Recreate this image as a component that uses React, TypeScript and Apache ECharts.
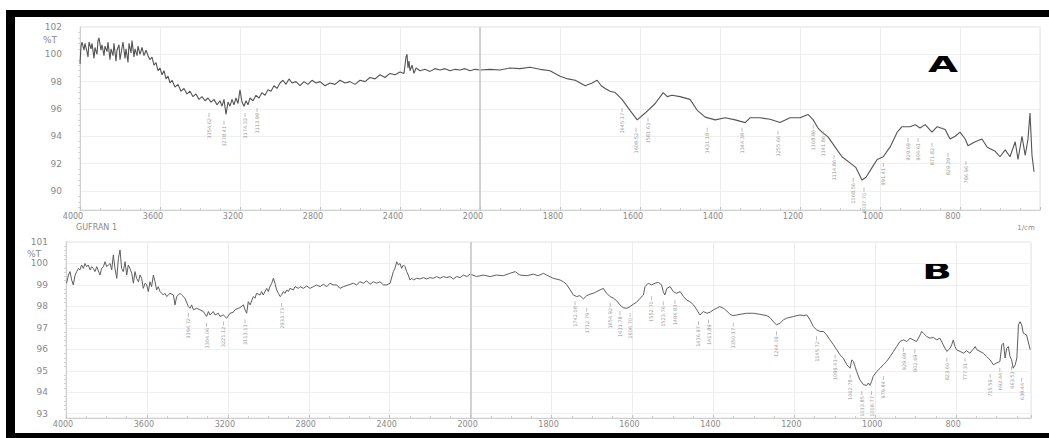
import React, { useEffect, useRef } from "react";
import * as echarts from "echarts";

// ---- spectrum A (wavenumber 1/cm, %T) ----
const specA: [number, number][] = [
  [4000,99.3],[3995,100.6],[3990,100.9],[3980,100.3],[3975,100.8],[3965,100.2],[3960,99.8],[3955,100.9],[3945,100.4],[3940,100.8],[3930,99.7],[3925,100.5],[3915,100.0],[3910,101.0],[3905,101.2],[3895,100.3],[3890,100.7],[3880,99.9],[3875,100.6],[3865,100.2],[3860,100.9],[3850,99.6],[3845,100.4],[3835,99.9],[3830,100.8],[3820,99.5],[3815,100.3],[3805,100.7],[3800,99.6],[3790,100.5],[3785,100.9],[3775,99.7],[3770,100.4],[3760,99.4],[3755,100.8],[3745,100.1],[3740,101.0],[3730,99.8],[3725,100.4],[3715,99.9],[3710,100.6],[3700,100.0],[3690,100.5],[3680,99.9],[3670,100.3],[3660,99.9],
  [3650,99.6],[3640,99.8],[3630,99.2],[3620,99.4],[3610,98.8],[3600,99.0],[3590,98.5],[3580,98.8],[3570,98.2],[3560,98.4],[3550,97.9],[3540,98.1],[3525,97.6],[3510,97.8],[3495,97.3],[3480,97.5],[3465,97.1],[3450,97.3],[3435,96.9],[3420,97.1],[3405,96.7],[3390,96.9],[3375,96.6],[3360,96.8],[3345,96.5],[3330,96.7],[3315,96.3],[3300,96.6],[3290,96.2],[3280,96.7],[3270,95.6],[3260,96.5],[3250,96.2],[3240,96.7],[3230,96.3],[3220,96.8],[3210,96.4],[3200,97.4],[3190,96.5],[3180,96.2],[3170,96.6],[3160,96.3],[3150,96.8],[3135,96.6],[3120,97.0],[3105,96.8],[3090,97.2],[3075,97.0],[3060,97.4],[3045,97.3],[3030,97.7],[3015,97.5],[3000,97.9],[2985,98.1],[2970,97.8],[2955,98.2],[2940,97.9],[2920,98.0],[2900,97.7],[2880,98.0],[2860,97.8],[2840,98.1],[2820,97.9],[2800,98.0],[2775,97.7],[2750,97.9],[2725,97.8],[2700,98.1],[2675,97.9],[2650,98.0],[2625,97.8],[2600,98.1],[2575,98.0],[2550,98.3],[2525,98.2],[2500,98.5],[2475,98.3],[2450,98.6],[2425,98.5],[2400,98.7],[2380,98.6],[2370,99.8],[2365,100.0],[2360,99.0],[2355,99.5],[2350,98.8],[2340,99.2],[2330,98.6],[2320,99.0],[2300,98.8],[2275,98.9],[2250,98.75],[2225,98.95],[2200,98.85],[2175,98.95],[2150,98.8],[2125,98.9],[2100,98.85],[2075,98.95],[2050,98.8],[2025,98.9],[2000,98.85],
  [1975,98.9],[1950,98.85],[1925,99.0],[1900,98.95],[1875,99.05],[1850,98.9],[1825,98.8],[1800,98.4],[1780,98.2],[1762,98.1],[1737,97.7],[1720,97.9],[1707,98.1],[1697,97.7],[1687,97.5],[1675,97.3],[1662,97.2],[1645,96.7],[1625,95.9],[1607,95.2],[1587,95.7],[1562,96.4],[1542,97.2],[1532,96.9],[1520,97.0],[1500,96.9],[1475,96.7],[1457,95.9],[1437,95.4],[1412,95.2],[1387,95.35],[1362,95.2],[1337,95.0],[1325,95.35],[1300,95.35],[1275,95.25],[1250,95.0],[1225,95.35],[1200,95.35],[1180,95.6],[1167,95.2],[1155,94.6],[1145,94.3],[1130,93.95],[1112,93.2],[1095,92.5],[1075,92.05],[1060,91.7],[1045,90.8],[1035,91.0],[1020,91.7],[1007,92.3],[992,92.5],[975,93.2],[957,94.3],[945,94.7],[925,94.7],[912,94.85],[900,94.6],[887,94.85],[870,94.3],[857,94.7],[837,94.5],[825,93.8],[812,94.0],[800,94.3],[787,93.8],[780,93.3],[762,93.6],[745,93.8],[732,93.2],[712,92.9],[700,92.5],[687,93.0],[675,92.5],[662,93.6],[655,92.3],[645,94.0],[637,92.6],[630,93.8],[625,95.7],[620,92.6],[615,91.4]
];

// ---- spectrum B ----
const specB: [number, number][] = [
  [3997,99.08],[3988,99.46],[3980,99.62],[3972,99.23],[3964,99.0],[3955,99.46],[3947,99.62],[3939,99.77],[3931,99.7],[3923,99.93],[3914,99.77],[3906,100.0],[3898,99.85],[3890,99.93],[3881,99.7],[3873,99.85],[3865,99.77],[3857,99.62],[3848,99.85],[3832,99.46],[3824,99.77],[3815,99.85],[3807,100.08],[3799,99.85],[3782,100.0],[3774,99.7],[3766,100.4],[3758,99.77],[3749,99.31],[3741,100.24],[3733,100.63],[3725,99.77],[3717,99.62],[3708,100.08],[3700,99.46],[3692,99.93],[3684,99.77],[3675,99.54],[3667,99.08],[3659,99.62],[3651,99.31],[3642,99.15],[3634,99.46],[3626,99.31],[3618,98.84],[3609,99.08],[3601,99.0],[3593,98.69],[3585,99.15],[3577,98.92],[3568,99.46],[3560,99.15],[3552,98.77],[3544,98.92],[3535,98.69],[3519,98.53],[3511,98.61],[3502,98.46],[3486,98.61],[3469,98.53],[3461,98.07],[3453,98.46],[3436,98.61],[3428,98.53],[3412,98.38],[3395,97.99],[3387,97.91],[3379,98.07],[3370,97.84],[3354,97.91],[3338,97.84],[3321,97.76],[3305,97.53],[3296,97.76],[3288,97.6],[3272,97.76],[3263,97.6],[3247,97.68],[3239,97.53],[3222,97.6],[3206,97.45],[3189,97.68],[3173,97.73],[3165,97.84],[3148,97.91],[3140,97.94],[3123,98.07],[3115,97.84],[3107,97.68],[3099,98.22],[3090,98.07],[3074,98.46],[3066,98.38],[3058,98.61],[3041,98.53],[3033,98.69],[3025,98.53],[3008,98.84],[3000,98.69],[2992,98.92],[2983,99.08],[2975,99.31],[2967,99.08],[2959,98.77],[2950,98.61],[2942,98.46],[2934,98.53],[2926,98.69],[2917,98.61],[2909,98.77],[2901,98.69],[2893,98.84],[2876,98.77],[2868,98.92],[2851,98.84],[2843,98.92],[2827,98.84],[2810,98.95],[2794,98.84],[2777,98.92],[2761,99.0],[2744,98.92],[2728,99.03],[2711,98.92],[2695,99.08],[2679,99.0],[2662,99.0],[2646,98.84],[2629,98.92],[2604,99.0],[2580,99.08],[2563,99.0],[2547,99.15],[2530,99.08],[2514,99.19],[2497,99.03],[2481,99.15],[2464,99.08],[2448,99.15],[2431,99.0],[2415,99.0],[2398,99.08],[2382,99.62],[2374,99.77],[2365,100.08],[2357,99.93],[2349,100.0],[2341,99.77],[2332,99.93],[2324,99.85],[2316,99.62],[2308,99.46],[2300,99.23],[2291,99.31],[2283,99.23],[2267,99.31],[2250,99.28],[2234,99.34],[2217,99.28],[2201,99.34],[2184,99.31],[2168,99.39],[2151,99.31],[2135,99.39],[2118,99.34],[2102,99.39],[2085,99.28],[2069,99.39],[2052,99.34],[2036,99.46],[2019,99.39],[2003,99.5],
  [1985,99.39],[1969,99.46],[1952,99.39],[1936,99.46],[1919,99.43],[1903,99.54],[1890,99.62],[1878,99.46],[1861,99.43],[1845,99.5],[1833,99.43],[1820,99.54],[1812,99.46],[1796,99.31],[1779,99.23],[1771,99.15],[1763,99.03],[1754,98.77],[1746,98.53],[1738,98.46],[1730,98.5],[1721,98.35],[1713,98.5],[1705,98.57],[1697,98.61],[1688,98.69],[1680,98.77],[1672,98.84],[1664,98.61],[1655,98.46],[1647,98.38],[1639,98.26],[1631,98.07],[1623,97.94],[1614,97.91],[1606,97.99],[1598,98.1],[1590,98.19],[1581,98.38],[1573,98.53],[1569,98.92],[1561,99.08],[1553,99.0],[1544,99.08],[1536,99.12],[1528,99.0],[1524,98.69],[1520,98.53],[1515,98.84],[1507,98.92],[1499,98.69],[1491,98.61],[1482,98.69],[1474,98.46],[1466,98.3],[1458,98.22],[1449,98.07],[1441,97.84],[1433,97.6],[1425,97.76],[1416,97.68],[1408,97.73],[1400,97.84],[1392,97.91],[1384,97.99],[1375,97.91],[1367,97.79],[1359,97.63],[1351,97.57],[1342,97.6],[1334,97.63],[1318,97.68],[1301,97.68],[1285,97.63],[1268,97.57],[1260,97.48],[1252,97.29],[1244,97.14],[1235,97.22],[1227,97.37],[1219,97.45],[1202,97.53],[1186,97.6],[1178,97.57],[1169,97.6],[1161,97.37],[1153,97.06],[1145,96.91],[1136,96.83],[1128,96.83],[1120,96.67],[1112,96.44],[1103,96.21],[1095,95.98],[1087,95.74],[1079,95.59],[1070,95.28],[1062,95.12],[1058,95.51],[1054,95.43],[1050,95.2],[1046,94.97],[1038,94.58],[1029,94.35],[1021,94.32],[1017,94.43],[1013,94.32],[1009,94.5],[1005,94.74],[996,94.97],[988,95.12],[980,95.28],[972,95.43],[963,95.67],[955,95.9],[947,96.13],[939,96.36],[930,96.44],[922,96.36],[914,96.52],[906,96.44],[898,96.36],[889,96.67],[885,96.83],[881,96.75],[873,96.6],[865,96.52],[856,96.55],[848,96.44],[840,96.52],[832,96.21],[823,95.9],[815,96.05],[811,96.21],[807,96.44],[803,96.13],[799,95.98],[790,95.9],[782,95.82],[774,95.93],[766,95.82],[757,96.02],[753,96.13],[749,95.98],[741,95.9],[733,95.82],[725,95.67],[716,95.51],[708,95.28],[700,95.36],[692,95.43],[687,96.21],[683,96.29],[679,95.59],[675,96.05],[671,96.13],[667,95.67],[663,95.51],[659,95.12],[654,95.28],[650,95.59],[646,97.14],[642,97.29],[638,97.14],[634,96.75],[626,96.67],[617,95.98]
];

// ---- peak annotations ----
const peaksAWn = [3355,3280,3175,3115,1645,1610,1580,1432,1345,1255,1167,1142,1115,1067,1040,992,930,905,870,830,785];
const peaksAT = [95.56,94.98,95.56,95.93,95.93,94.47,95.2,94.47,94.47,94.25,94.7,94.25,92.49,90.8,90.08,91.9,93.73,93.73,93.37,92.64,92.05];
const peaksAText = ["3354.62","3278.41","3174.33","3113.98","1645.17","1608.52","1581.63","1431.18","1344.38","1255.66","1168.86","1141.86","1114.86","1068.56","1037.70","991.41","929.69","904.61","871.82","829.39","786.96"];

const peaksBWn = [3395,3305,3222,3115,2934,1742,1713,1655,1631,1606,1553,1524,1495,1437,1412,1351,1244,1145,1099,1062,1033,1009,980,930,902,823,778,716,692,663,638];
const peaksBT = [97.6,97.14,97.2,97.3,98.07,98.15,97.84,98.07,97.68,97.6,98.38,98.15,98.22,97.22,97.3,97.14,96.75,96.52,95.67,94.74,93.96,93.96,94.66,95.98,95.9,95.51,95.51,94.74,95.05,95.12,94.58];
const peaksBText = ["3394.72","3304.06","3221.12","3113.11","2933.73","1742.08","1712.79","1654.92","1631.78","1606.70","1552.70","1523.76","1494.83","1436.97","1411.89","1350.17","1244.09","1145.72","1099.43","1062.78","1033.85","1008.77","979.84","929.69","902.69","823.60","777.31","715.59","692.44","663.51","638.44"];

// x-axis ticks (1/cm) and y-axis ranges
const xTickLabels = [4000,3600,3200,2800,2400,2000,1800,1600,1400,1200,1000,800];
const yRangeA = [88.6, 102];
const yRangeB = [92.8, 101];

// scale break at 2000 1/cm (lower range expanded 2x)
const toT = (wn: number) => (wn >= 2000 ? 4000 - wn : 2000 + (2000 - wn) * 2);
const fromT = (t: number) => (t <= 2000 ? 4000 - t : 2000 - (t - 2000) / 2);

const FONT = "DejaVu Sans";

function xAxisCfg(gridIndex: number, max: number, shift: number) {
  return {
    type: "value",
    gridIndex,
    min: 0,
    max,
    interval: 400,
    axisLine: { show: true, lineStyle: { color: "#cfcfcf" } },
    axisTick: { show: true, inside: true, length: 3, lineStyle: { color: "#c0c0c0" } },
    minorTick: { show: true, splitNumber: 4, length: 2, lineStyle: { color: "#cccccc" } },
    splitLine: { show: true, lineStyle: { color: "#ededed" } },
    axisLabel: {
      color: "#8a8a8a",
      fontSize: 8,
      fontFamily: FONT,
      margin: 2,
      padding: [0, shift, 0, 0],
      formatter: (v: number) => {
        const wn = fromT(v);
        return xTickLabels.includes(wn) ? String(wn) : "";
      },
    },
  };
}

function yAxisCfg(gridIndex: number, range: number[], step: number) {
  return {
    type: "value",
    gridIndex,
    min: range[0],
    max: range[1],
    minInterval: step,
    maxInterval: step,
    axisLine: { show: true, lineStyle: { color: "#cfcfcf" } },
    axisTick: { show: false },
    minorTick: { show: true, splitNumber: 5, length: 2, lineStyle: { color: "#d5d5d5" } },
    splitLine: { show: true, lineStyle: { color: "#f0f0f0" } },
    axisLabel: {
      color: "#8a8a8a",
      fontSize: 9,
      fontFamily: FONT,
      margin: 18,
      formatter: (v: number) => {
        const r = Math.round(v);
        return Math.abs(v - r) < 1e-6 && r % step === 0 ? String(r) : "";
      },
    },
  };
}

function peakSeries(idx: number, wns: number[], ts: number[], texts: string[]) {
  return {
    type: "scatter",
    xAxisIndex: idx,
    yAxisIndex: idx,
    symbol: "rect",
    symbolSize: [0.8, 4],
    itemStyle: { color: "#9a9a9a" },
    silent: true,
    data: wns.map((w, i) => ({ value: [toT(w), ts[i]], name: texts[i] })),
    label: {
      show: true,
      formatter: "{b}",
      position: "bottom",
      distance: 1,
      rotate: 90,
      align: "right",
      verticalAlign: "middle",
      fontSize: 5,
      fontFamily: FONT,
      color: "#777",
    },
    z: 3,
  };
}

export default function App() {
  const ref = useRef<HTMLDivElement>(null);
  useEffect(() => {
    if (!ref.current) return;
    const chart = echarts.init(ref.current, null, { renderer: "svg" });
    const breakLine = {
      silent: true,
      symbol: "none",
      label: { show: false },
      lineStyle: { color: "#c4c4c4", type: "solid", width: 1.5 },
      data: [{ xAxis: toT(2000) }],
    };
    chart.setOption({
      animation: false,
      backgroundColor: "#ffffff",
      grid: [
        { left: 80, top: 27, width: 960, height: 183, show: true, borderColor: "#e2e2e2", borderWidth: 1 },
        { left: 66, top: 242, width: 965, height: 176, show: true, borderColor: "#e2e2e2", borderWidth: 1 },
      ],
      xAxis: [xAxisCfg(0, 4800, 14), xAxisCfg(1, 4770, 6)],
      yAxis: [yAxisCfg(0, yRangeA, 2), yAxisCfg(1, yRangeB, 1)],
      series: [
        {
          type: "line",
          xAxisIndex: 0,
          yAxisIndex: 0,
          showSymbol: false,
          data: specA.map(([w, v]) => [toT(w), v]),
          lineStyle: { color: "#555", width: 1.1 },
          markLine: breakLine,
        },
        {
          type: "line",
          xAxisIndex: 1,
          yAxisIndex: 1,
          showSymbol: false,
          data: specB.map(([w, v]) => [toT(w), v]),
          lineStyle: { color: "#5e5e5e", width: 1 },
          markLine: breakLine,
        },
        peakSeries(0, peaksAWn, peaksAT, peaksAText),
        peakSeries(1, peaksBWn, peaksBT, peaksBText),
      ],
      graphic: [
        { type: "rect", shape: { x: 7, y: 10, width: 1042, height: 7 }, style: { fill: "#000" } },
        { type: "rect", shape: { x: 6, y: 10, width: 9, height: 428 }, style: { fill: "#000" } },
        { type: "rect", shape: { x: 6, y: 433, width: 1043, height: 5 }, style: { fill: "#000" } },
        { type: "text", x: 50, y: 40, style: { text: "%T", fill: "#8a8a8a", fontSize: 9, fontFamily: FONT, align: "center", verticalAlign: "middle" } },
        { type: "text", x: 34, y: 254, style: { text: "%T", fill: "#8a8a8a", fontSize: 9, fontFamily: FONT, align: "center", verticalAlign: "middle" } },
        { type: "text", x: 76, y: 227, style: { text: "GUFRAN 1", fill: "#8a8a8a", fontSize: 8, fontFamily: FONT, align: "left", verticalAlign: "middle" } },
        { type: "text", x: 1026, y: 228, style: { text: "1/cm", fill: "#8a8a8a", fontSize: 7, fontFamily: FONT, align: "center", verticalAlign: "middle" } },
        { type: "text", x: 943, y: 65, scaleX: 1.85, style: { text: "A", fill: "#000", fontSize: 21, fontWeight: "bold", fontFamily: FONT, align: "center", verticalAlign: "middle" } },
        { type: "text", x: 937, y: 272, scaleX: 1.85, style: { text: "B", fill: "#000", fontSize: 21, fontWeight: "bold", fontFamily: FONT, align: "center", verticalAlign: "middle" } },
      ],
    });
    return () => chart.dispose();
  }, []);
  return (
    <div
      ref={ref}
      style={{ position: "fixed", left: 0, top: 0, width: 1049, height: 438, background: "#fff" }}
    />
  );
}
